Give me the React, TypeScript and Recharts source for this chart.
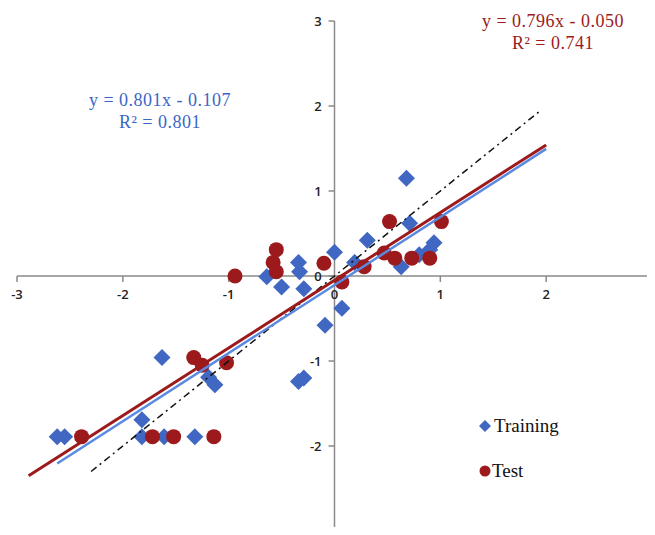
import { ScatterChart, Scatter, XAxis, YAxis, ReferenceLine } from "recharts"

const trainX = [-2.62, -2.55, -1.63, -1.82, -1.82, -1.61, -1.32, -1.19, -1.13, -0.64, -0.5, -0.34, -0.33, -0.29, -0.34, -0.29, -0.09, 0.0, 0.07, 0.19, 0.31, 0.63, 0.68, 0.71, 0.8, 0.9, 0.94]
const trainY = [-1.89, -1.89, -0.96, -1.69, -1.89, -1.89, -1.89, -1.19, -1.28, -0.01, -0.13, 0.16, 0.05, -0.15, -1.24, -1.2, -0.58, 0.28, -0.38, 0.16, 0.42, 0.11, 1.15, 0.62, 0.25, 0.31, 0.39]

const testX = [-2.39, -1.72, -1.52, -1.14, -1.33, -1.25, -1.02, -0.94, -0.55, -0.58, -0.55, -0.1, 0.07, 0.28, 0.47, 0.52, 0.57, 0.73, 0.9, 1.01]
const testY = [-1.89, -1.89, -1.89, -1.89, -0.96, -1.05, -1.02, 0.0, 0.31, 0.16, 0.05, 0.15, -0.07, 0.11, 0.27, 0.64, 0.21, 0.21, 0.21, 0.64]

// trend lines: slope, intercept, x range
const trainFit = { slope: 0.801, intercept: -0.107, from: -2.62, to: 2.0 }
const testFit = { slope: 0.796, intercept: -0.05, from: -2.89, to: 2.0 }
const idealRange = [-2.3, 1.93]

const ticks = [-3, -2, -1, 0, 1, 2, 3]
const TICK_LEN = 0.07 // in data units

const BLUE = "#4068c2"
const BLUE_LINE = "#5a8ae0"
const RED = "#9c1a1c"
const AXIS = "#8a8a8a"

const training = trainX.map((x, i) => ({ x, y: trainY[i] }))
const test = testX.map((x, i) => ({ x, y: testY[i] }))
const fitLine = (f: typeof trainFit) => [
  { x: f.from, y: f.slope * f.from + f.intercept },
  { x: f.to, y: f.slope * f.to + f.intercept },
]
const ideal = idealRange.map((v) => ({ x: v, y: v }))

const tickFont = { fontFamily: "'Open Sans', sans-serif", fontSize: 13, fontWeight: 600, fill: "#222" }

const Diamond = (props: any) => {
  const { cx, cy } = props
  const r = 8.5
  return <path d={`M${cx},${cy - r}L${cx + r},${cy}L${cx},${cy + r}L${cx - r},${cy}Z`} fill={BLUE} />
}

const Dot = (props: any) => <circle cx={props.cx} cy={props.cy} r={7.5} fill={RED} />

const NoShape = () => <g />

const eqStyle = {
  position: "absolute" as const,
  fontFamily: "'Liberation Serif', serif",
  fontSize: 18,
  letterSpacing: 0.5,
  lineHeight: "22px",
  textAlign: "center" as const,
  width: 220,
}

export default function App() {
  return (
    <div style={{ position: "relative", width: 647, height: 519 }}>
      <style>{"html,body{overflow:hidden}.recharts-surface{overflow:visible}"}</style>
      <ScatterChart width={647} height={527} margin={{ top: 13, right: 3, bottom: 4, left: 9 }}>
        <XAxis type="number" dataKey="x" domain={[-3, 3]} ticks={ticks} hide />
        <YAxis type="number" dataKey="y" domain={[-3, 3]} ticks={ticks} hide />
        <ReferenceLine y={0} stroke={AXIS} strokeWidth={1.5} />
        <ReferenceLine x={0} stroke={AXIS} strokeWidth={1.5} />
        {ticks.map((t) => (
          <ReferenceLine
            key={"xt" + t}
            segment={[{ x: t, y: 0 }, { x: t, y: -TICK_LEN }]}
            stroke={AXIS}
            strokeWidth={1.5}
            ifOverflow="visible"
            label={{ value: String(t), position: "bottom", offset: 8, ...tickFont }}
          />
        ))}
        {ticks.map((t) => (
          <ReferenceLine
            key={"yt" + t}
            segment={[{ x: -TICK_LEN * 0.8, y: t }, { x: 0, y: t }]}
            stroke={AXIS}
            strokeWidth={1.5}
            ifOverflow="visible"
            label={{ value: String(t), position: "left", offset: 7, ...tickFont }}
          />
        ))}
        <Scatter name="Training" data={training} shape={Diamond} isAnimationActive={false} />
        <Scatter name="Test" data={test} shape={Dot} isAnimationActive={false} />
        <Scatter
          data={ideal}
          line={{ stroke: "#111", strokeWidth: 1.5, strokeDasharray: "7 4 2 4" }}
          shape={NoShape}
          legendType="none"
          isAnimationActive={false}
        />
        <Scatter data={fitLine(trainFit)} line={{ stroke: BLUE_LINE, strokeWidth: 2.5 }} shape={NoShape} legendType="none" isAnimationActive={false} />
        <Scatter data={fitLine(testFit)} line={{ stroke: RED, strokeWidth: 3 }} shape={NoShape} legendType="none" isAnimationActive={false} />
      </ScatterChart>
      <div style={{ position: "absolute", left: 471, top: 406, fontFamily: "'Liberation Serif', serif", fontSize: 19, color: "#111" }}>
        <div style={{ display: "flex", alignItems: "center", height: 24 }}>
          <svg width={12} height={12} style={{ marginRight: 3 }}>
            <path d="M6,0L12,6L6,12L0,6Z" fill={BLUE} />
          </svg>
          Training
        </div>
        <div style={{ display: "flex", alignItems: "center", height: 24, marginTop: 21 }}>
          <svg width={12} height={12} style={{ marginRight: 1 }}>
            <circle cx={6} cy={6} r={5.5} fill={RED} />
          </svg>
          Test
        </div>
      </div>
      <div style={{ ...eqStyle, left: 42, top: 81, color: "#3a66c8" }}>
        <div>y = 0.801x - 0.107</div>
        <div>R² = 0.801</div>
      </div>
      <div style={{ ...eqStyle, left: 435, top: 2, color: RED }}>
        <div>y = 0.796x - 0.050</div>
        <div>R² = 0.741</div>
      </div>
    </div>
  )
}
